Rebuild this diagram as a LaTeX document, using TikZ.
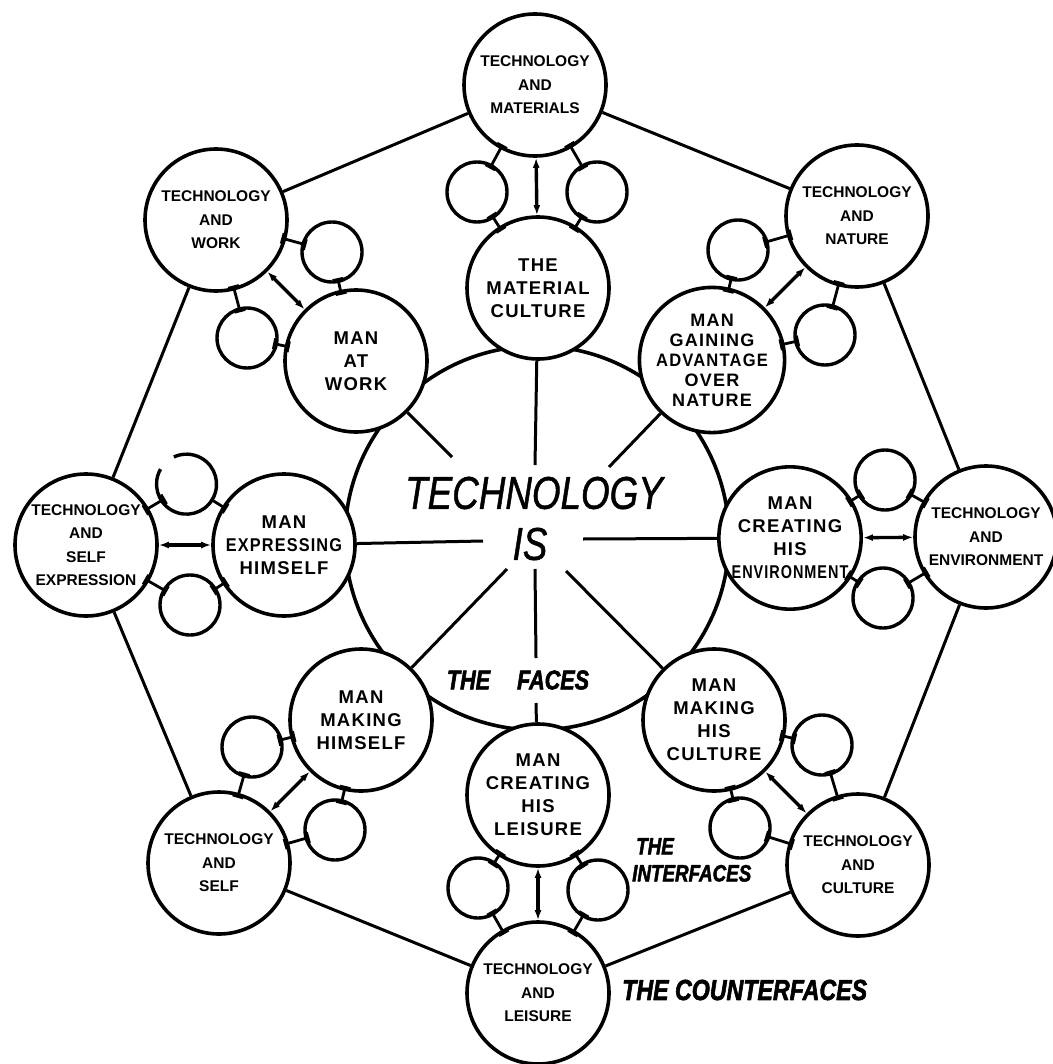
\documentclass[tikz,border=0pt]{standalone}
\usepackage{fontspec}
\setmainfont{Liberation Sans}
\newfontfamily\handfont[FakeStretch=0.8, ItalicFeatures={FakeBold=1}]{Liberation Sans}
\newfontfamily\capfont[FakeStretch=0.8, BoldItalicFeatures={FakeBold=2}]{Liberation Sans}
\newfontfamily\facefont[LetterSpace=7]{Liberation Sans}
\usetikzlibrary{arrows.meta}
\tikzset{
 ring/.style={circle, draw, line width=3.6pt, fill=white, inner sep=0pt, minimum size=142pt, align=center},
 face/.style={ring, font=\facefont\bfseries\fontsize{18.5}{23}\selectfont},
 counter/.style={ring, font=\bfseries\fontsize{15.5}{23.5}\selectfont},
 tiny/.style={circle, draw, line width=3.4pt, fill=white, inner sep=0pt, minimum size=60pt},
 link/.style={line width=3pt},
 plug/.style={line width=2.8pt, shorten <=-5pt, shorten >=-5pt, {Bar[width=11pt,line width=2.6pt]}-{Bar[width=11pt,line width=2.6pt]}},
 dbl/.style={line width=3.4pt, {Latex[length=10pt,width=7pt]}-{Latex[length=10pt,width=7pt]}},
 titletext/.style={font=\handfont\itshape\fontsize{46}{50}\selectfont, inner sep=0pt},
 captext/.style={font=\capfont\bfseries\itshape\fontsize{28}{28}\selectfont, inner sep=0pt},
}
\begin{document}
\begin{tikzpicture}[x=1pt,y=-1pt,line join=round]
\fill[white] (0,0) rectangle (1052,1064);
\useasboundingbox (0,0) rectangle (1052,1064);
% central circle
\node[circle, draw, line width=3.6pt, minimum size=384pt, inner sep=0pt] (core) at (537,538) {};
\node[titletext] (tech) at (534,493) {TECHNOLOGY};
\node[titletext] (is) at (530,544) {IS};
\node[captext, font=\capfont\bfseries\itshape\fontsize{27}{27}\selectfont] (faces) at (518,680) {THE\hspace{27pt}FACES};
\node[captext, font=\capfont\bfseries\itshape\fontsize{23.5}{27}\selectfont, align=left, anchor=north west] (interf) at (632,838) {\hspace{4pt}THE\\INTERFACES};
\node[captext, anchor=west, font=\capfont\bfseries\itshape\fontsize{29}{29}\selectfont] (counterf) at (622,990) {THE COUNTERFACES};
% spoke ends
\coordinate (kTop) at (535,465);
\coordinate (kL) at (483,541);
\coordinate (kR) at (583,539);
\coordinate (kUL) at (452,457);
\coordinate (kUR) at (609,467);
\coordinate (kLL) at (507,569);
\coordinate (kLR) at (566,571);
\coordinate (kB1) at (535,569);
\coordinate (kB2) at (536,658);
\coordinate (kB3) at (536,703);
% faces
\node[face] (fMat) at (538,288) {THE\\MATERIAL\\CULTURE};
\node[face] (fWork) at (356,361) {MAN\\AT\\WORK};
\node[face, font=\facefont\bfseries\fontsize{18}{20}\selectfont] (fNat) at (712,360) {MAN\\GAINING\\\scalebox{0.92}[1]{ADVANTAGE}\\OVER\\NATURE};
\node[face] (fExp) at (284,545) {MAN\\\scalebox{0.88}[1]{EXPRESSING}\\HIMSELF};
\node[face] (fEnv) at (790,538) {MAN\\CREATING\\HIS\\\scalebox{0.78}[1]{ENVIRONMENT}};
\node[face] (fSelf) at (361,720) {MAN\\MAKING\\HIMSELF};
\node[face] (fCult) at (714,720) {MAN\\MAKING\\HIS\\CULTURE};
\node[face] (fLeis) at (538,795) {MAN\\CREATING\\HIS\\LEISURE};
% counterfaces
\node[counter] (cMat) at (535,85) {TECHNOLOGY\\AND\\MATERIALS};
\node[counter] (cWork) at (216,220) {TECHNOLOGY\\AND\\WORK};
\node[counter] (cNat) at (857,216) {TECHNOLOGY\\AND\\NATURE};
\node[counter] (cExp) at (86,545) {TECHNOLOGY\\AND\\SELF\\EXPRESSION};
\node[counter] (cEnv) at (986,537) {TECHNOLOGY\\AND\\ENVIRONMENT};
\node[counter] (cSelf) at (219,863) {TECHNOLOGY\\AND\\SELF};
\node[counter] (cCult) at (858,865) {TECHNOLOGY\\AND\\CULTURE};
\node[counter] (cLeis) at (538,993) {TECHNOLOGY\\AND\\LEISURE};
% interfaces
\node[tiny] (sMat1) at (477,192) {};
\node[tiny] (sMat2) at (597,192) {};
\node[tiny] (sWork1) at (332,252) {};
\node[tiny] (sWork2) at (247,338) {};
\node[tiny] (sNat1) at (738,250) {};
\node[tiny] (sNat2) at (825,335) {};
\node[tiny, draw=none] (sExp1) at (188,485) {};
\node[tiny] (sExp2) at (190,605) {};
\node[tiny] (sEnv1) at (885,480) {};
\node[tiny] (sEnv2) at (883,598) {};
\node[tiny] (sSelf1) at (252,747) {};
\node[tiny] (sSelf2) at (335,830) {};
\node[tiny] (sCult1) at (822,745) {};
\node[tiny] (sCult2) at (740,828) {};
\node[tiny] (sLeis1) at (478,888) {};
\node[tiny] (sLeis2) at (598,890) {};
\draw[line width=3.4pt] (sExp1.150) arc[start angle=150, end angle=475, radius=30pt];
% spokes
\draw[link] (fMat) -- (kTop);
\draw[link] (fExp) -- (kL);
\draw[link] (fEnv) -- (kR);
\draw[link] (fWork) -- (kUL);
\draw[link] (fNat) -- (kUR);
\draw[link] (kLL) -- (fSelf);
\draw[link] (kLR) -- (fCult);
\draw[link] (kB1) -- (kB2);
\draw[link] (kB3) -- (fLeis);
% octagon
\draw[link] (cMat) -- (cWork);
\draw[link] (cWork) -- (cExp);
\draw[link] (cExp) -- (cSelf);
\draw[link] (cSelf) -- (cLeis);
\draw[link] (cLeis) -- (cCult);
\draw[link] (cCult) -- (cEnv);
\draw[link] (cEnv) -- (cNat);
\draw[link] (cNat) -- (cMat);
% face-counterface links
\foreach \cc/\ff/\sa/\sb in {cMat/fMat/sMat1/sMat2, cWork/fWork/sWork1/sWork2, cNat/fNat/sNat1/sNat2, cExp/fExp/sExp1/sExp2, cEnv/fEnv/sEnv1/sEnv2, cSelf/fSelf/sSelf1/sSelf2, cCult/fCult/sCult1/sCult2, cLeis/fLeis/sLeis1/sLeis2}{
 \draw[dbl] (\cc) -- (\ff);
 \draw[plug] (\cc) -- (\sa);
 \draw[plug] (\sa) -- (\ff);
 \draw[plug] (\cc) -- (\sb);
 \draw[plug] (\sb) -- (\ff);
}
\end{tikzpicture}
\end{document}
